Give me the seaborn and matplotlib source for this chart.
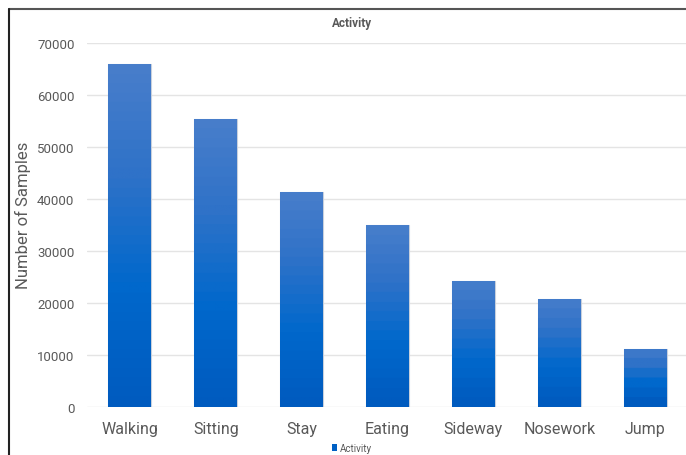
import numpy as np
import pandas as pd
import matplotlib
matplotlib.use("Agg")
import matplotlib.pyplot as plt
import seaborn as sns
from matplotlib.colors import LinearSegmentedColormap
from matplotlib.patches import Patch
from matplotlib.lines import Line2D

# data
activities = ["Walking", "Sitting", "Stay", "Eating", "Sideway", "Nosework", "Jump"]
samples = [66000, 55400, 41400, 35000, 24300, 20800, 11200]
yticks = [0, 10000, 20000, 30000, 40000, 50000, 60000, 70000]

df = pd.DataFrame({"activity": activities, "samples": samples})

sns.set_theme(style="white")
plt.rcParams["font.family"] = ["Roboto", "DejaVu Sans"]

fig = plt.figure(figsize=(6.86, 4.56), dpi=100)
ax = fig.add_axes([87 / 686, 1 - 408 / 456, 601 / 686, 364 / 456])

sns.barplot(data=df, x="activity", y="samples", color="#1f66c4", width=0.5,
            edgecolor="#c8d0dc", linewidth=0.8, ax=ax, zorder=2)

# excel-like vertical gradient with slight banding, per bar
grad = LinearSegmentedColormap.from_list("g", ["#005bbf", "#0068cc", "#2f72c8", "#4a7fcb"])
for p in ax.patches:
    x0, y0 = p.get_x(), p.get_y()
    w, h = p.get_width(), p.get_height()
    n = max(int(h / 1800), 4)
    levels = np.floor(np.linspace(0, 1, 256) * n) / n
    img = ax.imshow(levels.reshape(-1, 1), cmap=grad, vmin=0, vmax=1,
                    extent=[x0, x0 + w, y0, y0 + h], origin="lower",
                    aspect="auto", zorder=3)
    img.set_clip_path(p)

ax.set_xlim(-0.5, len(activities) - 0.5)
ax.set_ylim(0, 70000)
ax.set_yticks(yticks)
ax.yaxis.grid(True, color="#e4e4e4", linewidth=1)
ax.set_axisbelow(True)
for s in ax.spines.values():
    s.set_visible(False)
ax.tick_params(axis="y", labelsize=9.5, colors="#595959", length=0, pad=9)
ax.tick_params(axis="x", labelsize=11.5, colors="#595959", length=0, pad=10)
ax.set_xlabel("")
ax.set_ylabel("Number of Samples", fontsize=12, color="#595959")
ax.yaxis.set_label_coords(-0.093, 0.53)

fig.text(352 / 686, 1 - 24 / 456, "Activity", ha="center", va="center",
         fontsize=8.5, fontweight="bold", color="#595959")

handle = Patch(facecolor="#0060c4", edgecolor="none")
fig.legend([handle], ["Activity"], loc="center", bbox_to_anchor=(352 / 686, 1 - 449 / 456),
           frameon=False, fontsize=7, labelcolor="#595959", handlelength=0.6,
           handleheight=0.6, handletextpad=0.3)

# chart frame (top and left edges visible)
fig.add_artist(Line2D([9 / 686, 1], [1 - 10 / 456, 1 - 10 / 456], color="#555555", lw=1.5))
fig.add_artist(Line2D([9 / 686, 9 / 686], [0, 1 - 10 / 456], color="#222222", lw=1.5))

fig.savefig("out.png", dpi=100, facecolor="white")
